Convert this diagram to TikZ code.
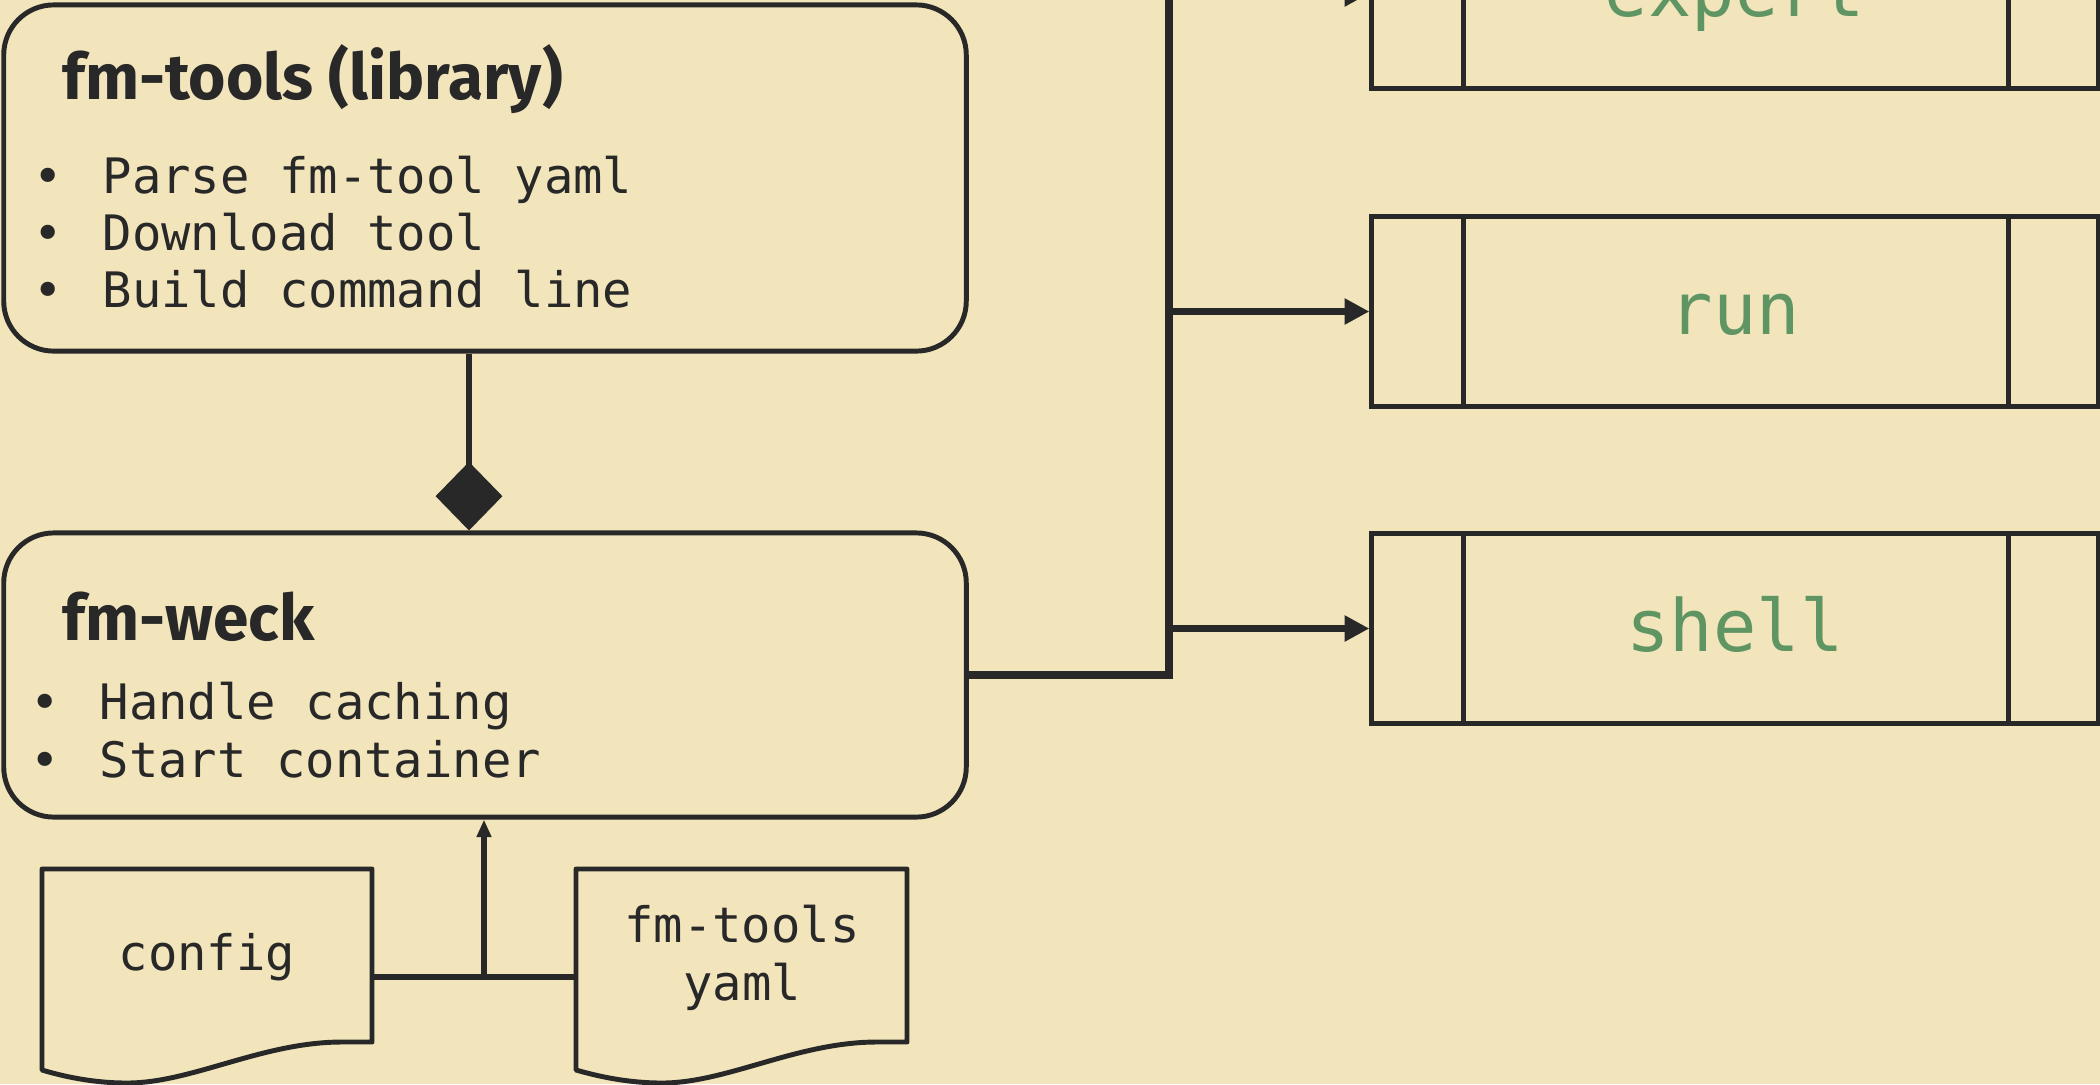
\documentclass[tikz,border=0pt]{standalone}
\usepackage{fontspec}
\setsansfont{Fira Sans}
\setmonofont{DejaVu Sans Mono}
\usetikzlibrary{arrows.meta,calc}
\definecolor{bg}{HTML}{F2E5BC}
\definecolor{ink}{HTML}{282828}
\definecolor{grn}{RGB}{95,148,99}
\begin{document}
\begin{tikzpicture}[x=0.01cm, y=-0.01cm,
  box/.style={draw=ink, line width=1.4pt, fill=bg, rounded corners=0.5cm, minimum width=9.62cm, inner sep=0pt},
  proc/.style={draw=ink, line width=1.4pt, minimum width=7.26cm, minimum height=1.89cm, font=\ttfamily\fontsize{20.5}{24}\selectfont, text=grn, text height=13pt, text depth=0pt, inner sep=0pt},
  ttl/.style={anchor=base west, font=\sffamily\bfseries\fontsize{18.2}{22}\selectfont, text=ink, inner sep=0pt},
  itm/.style={anchor=base west, font=\ttfamily\fontsize{13.9}{16}\selectfont, text=ink, inner sep=0pt},
  ctr/.style={anchor=base, font=\ttfamily\fontsize{13.9}{16}\selectfont, text=ink, inner sep=0pt},
  holder/.style={draw=none, inner sep=0pt, outer sep=0pt, minimum height=2.01cm},
  trunk/.style={draw=ink, line width=2.2pt},
  arr/.style={draw=ink, line width=2pt, -{Triangle[length=7pt,width=7pt]}},
  thinline/.style={draw=ink, line width=1.5pt},
  doc/.style={draw=ink, line width=1.4pt, fill=bg, line join=round},
]
\fill[bg] (0,0) rectangle (2100,1084);
\useasboundingbox (0,0) rectangle (2100,1084);
\clip (0,0) rectangle (2100,1084);

% library box
\node[box, minimum height=3.46cm] (lib) at (485,178) {};
\node[ttl] (libT) at (62,99) {fm-tools (library)};
\node[itm] (libA) at (102,193) {\llap{•\hspace{11.2pt}}Parse fm-tool yaml};
\node[itm] (libB) at (102,250) {\llap{•\hspace{11.2pt}}Download tool};
\node[itm] (libC) at (102,307) {\llap{•\hspace{11.2pt}}Build command line};

% fm-weck box
\node[box, minimum height=2.84cm] (weck) at (485,675) {};
\node[ttl] (weckT) at (62,640) {fm-weck};
\node[itm] (weckA) at (99,719) {\llap{•\hspace{11.2pt}}Handle caching};
\node[itm] (weckB) at (99,777) {\llap{•\hspace{11.2pt}}Start container};

% composition
\draw[draw=ink, line width=1.5pt, -{Diamond[length=19.5pt,width=19pt,fill=ink]}]
  ([xshift=-0.16cm]lib.south) -- ([xshift=-0.16cm]weck.north);

% documents
\draw[doc] (42,869) -- (372,869) -- (372,1042) -- (342,1042)
  .. controls (262,1042) and (192,1083) .. (127,1083)
  .. controls (92,1083) and (62,1076) .. (42,1070) -- cycle;
\node[holder, minimum width=3.3cm] (cfg) at (207,969.5) {};
\node[ctr] (cfgT) at (207,970) {config};

\draw[doc] (576,869) -- (907,869) -- (907,1042) -- (877,1042)
  .. controls (797,1042) and (727,1083) .. (662,1083)
  .. controls (627,1083) and (597,1076) .. (576,1070) -- cycle;
\node[holder, minimum width=3.31cm] (yaml) at (741.5,969.5) {};
\node[ctr] (yamlT) at (742,942) {fm-tools};
\node[ctr] (yamlU) at (742,1000) {yaml};

\coordinate (j) at (484,977);
\draw[thinline] (cfg.east |- j) -- (yaml.west |- j);
\draw[thinline, -{Triangle[length=5pt,width=4pt]}] (j) -- (j |- weck.south);

% command boxes
\node[proc] (expert) at (1735,-6.5) {expert};
\node[proc] (run) at (1735,311.5) {run};
\node[proc] (shell) at (1735,628.5) {shell};
\foreach \b in {expert,run,shell}{
  \draw[draw=ink, line width=1.4pt] ([xshift=0.94cm]\b.north west) -- ([xshift=0.94cm]\b.south west);
  \draw[draw=ink, line width=1.4pt] ([xshift=-0.92cm]\b.north east) -- ([xshift=-0.92cm]\b.south east);
}

% trunk and branches
\coordinate (bj) at (1169,676);
\draw[trunk] (weck.east) -- (weck.east -| bj) -- (bj |- expert.west);
\draw[arr] (bj |- expert.west) -- (expert.west);
\draw[arr] (bj |- run.west) -- (run.west);
\draw[arr] (bj |- shell.west) -- (shell.west);
\end{tikzpicture}
\end{document}
